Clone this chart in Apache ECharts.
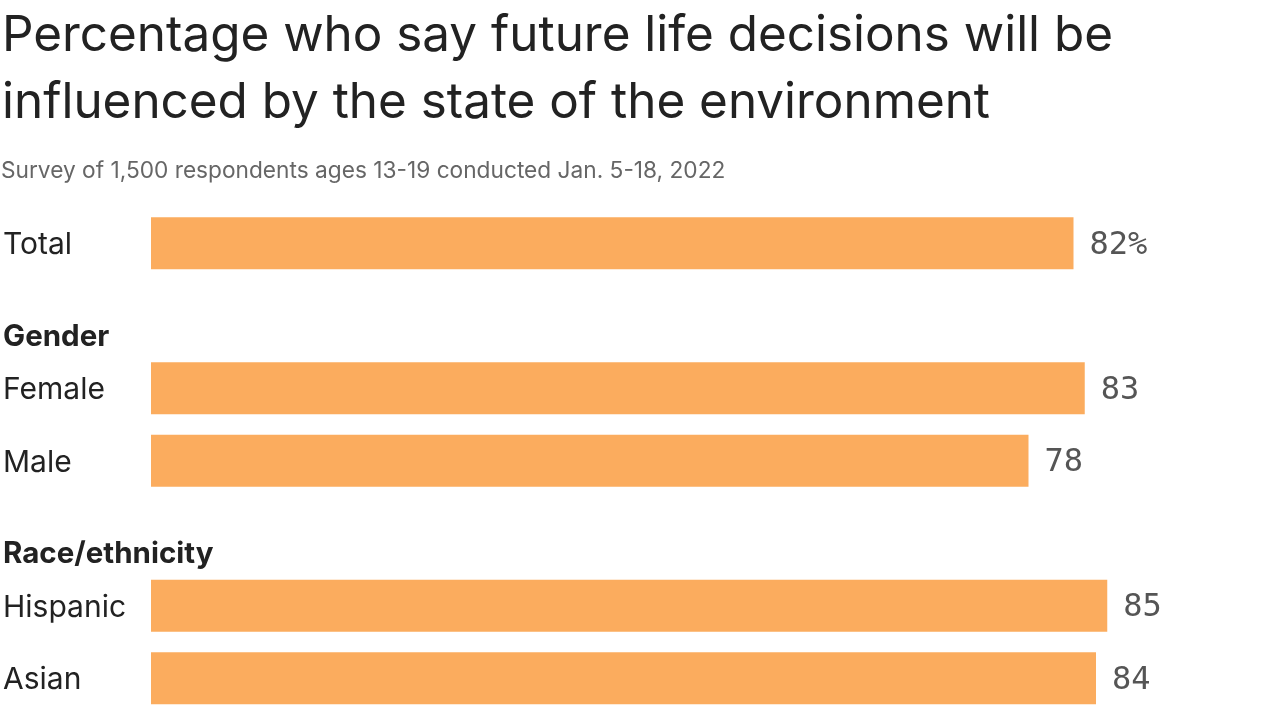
<!DOCTYPE html>
<html>
<head>
<meta charset="utf-8">
<script src="https://cdn.jsdelivr.net/npm/echarts@6/dist/echarts.min.js"></script>
<style>
html,body{margin:0;padding:0;background:#fff;}
#chart{width:1280px;height:719px;}
</style>
</head>
<body>
<div id="chart"></div>
<script>
const titleText = 'Percentage who say future life decisions will be\ninfluenced by the state of the environment';
const subtitleText = 'Survey of 1,500 respondents ages 13-19 conducted Jan. 5-18, 2022';
const categories = ['Total', 'Gender', 'Female', 'Male', 'Race/ethnicity', 'Hispanic', 'Asian'];
const headerRows = ['Gender', 'Race/ethnicity'];
const values = [82, null, 83, 78, null, 85, 84];

const chart = echarts.init(document.getElementById('chart'));
chart.setOption({
  animation: false,
  backgroundColor: '#ffffff',
  title: [
    {
      text: titleText,
      left: 2,
      top: 3,
      padding: 0,
      textStyle: { fontFamily: 'Inter', fontWeight: 'normal', fontSize: 49.4, lineHeight: 67, color: '#222222' }
    },
    {
      text: subtitleText,
      left: 1,
      top: 160,
      padding: 0,
      textStyle: { fontFamily: 'Inter', fontWeight: 'normal', fontSize: 22.7, color: '#666666' }
    }
  ],
  grid: { left: 151, top: 207, width: 1125, height: 507.5, containLabel: false },
  xAxis: {
    type: 'value', min: 0, max: 100, show: false
  },
  yAxis: {
    type: 'category',
    data: categories,
    inverse: true,
    axisLine: { show: false },
    axisTick: { show: false },
    splitLine: { show: false },
    axisLabel: {
      align: 'left',
      margin: 148,
      fontFamily: 'Inter',
      fontSize: 30,
      color: '#222222',
      padding: [4, 0, 0, 0],
      formatter: function (v) {
        return headerRows.indexOf(v) >= 0 ? '{h|' + v + '}' : v;
      },
      rich: {
        h: { fontFamily: 'Inter', fontSize: 29.5, fontWeight: 'bold', color: '#222222', padding: [38, 0, 0, 0] }
      }
    }
  },
  series: [{
    type: 'bar',
    data: values,
    barWidth: 52,
    itemStyle: { color: '#FBAC5E' },
    label: {
      show: true,
      position: 'right',
      distance: 16,
      offset: [0, 2],
      fontFamily: 'DejaVu Sans Mono',
      fontSize: 32,
      color: '#555555',
      formatter: function (p) { return p.dataIndex === 0 ? p.value + '%' : String(p.value); }
    }
  }]
});
</script>
</body>
</html>
